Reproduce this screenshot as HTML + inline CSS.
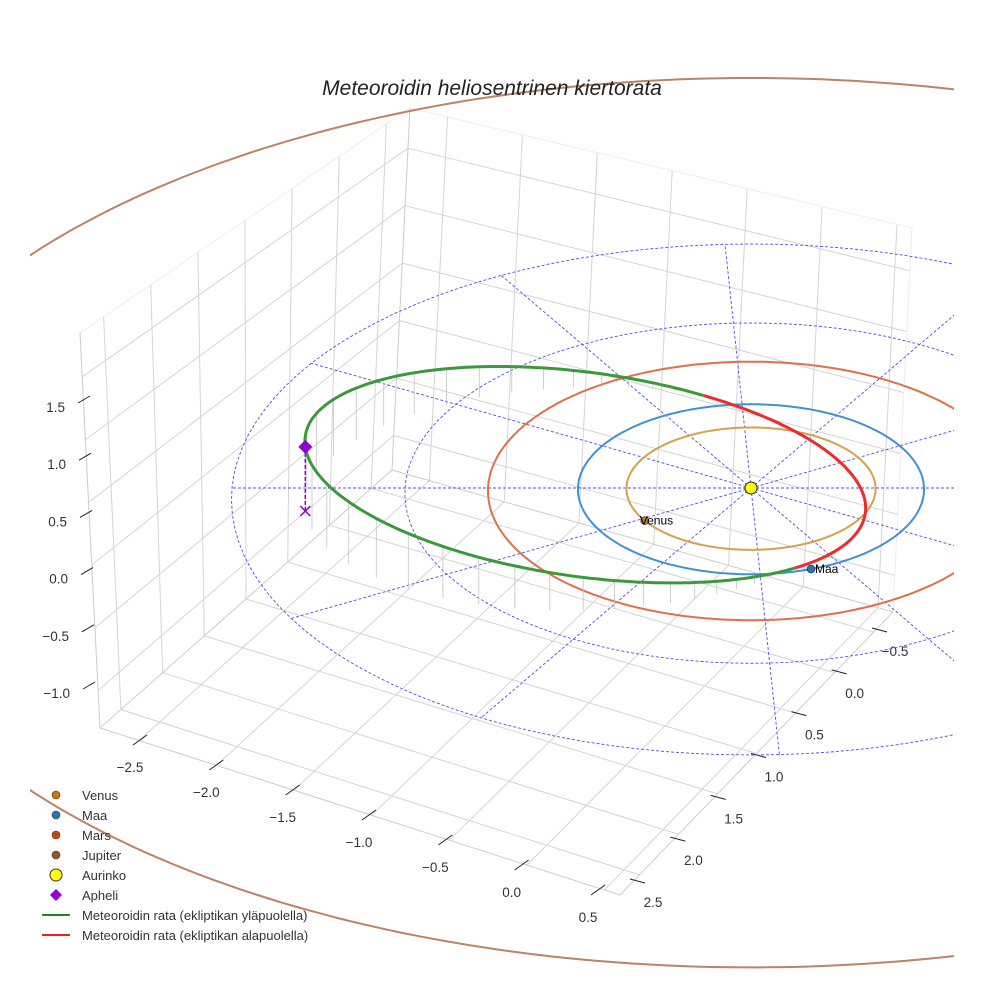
<!DOCTYPE html>
<html><head><meta charset="utf-8"><style>
html,body{margin:0;padding:0;background:#fff}
svg{display:block;font-family:"Liberation Sans",sans-serif}
</style></head><body>
<svg id="chart" width="984" height="984" viewBox="0 0 984 984" xmlns="http://www.w3.org/2000/svg">
<defs><clipPath id="clip"><rect x="30" y="0" width="924" height="984"/></clipPath></defs>
<rect width="984" height="984" fill="#fff"/>
<g id="grid"></g>
<g id="ticks"></g>
<g id="plot" clip-path="url(#clip)"></g>
<text x="492" y="95" text-anchor="middle" font-size="21" font-style="italic" fill="#222">Meteoroidin heliosentrinen kiertorata</text>
<g id="legend"></g>
</svg>
<script>
// ---- data ----
const planetNames = ["Venus", "Maa", "Mars", "Jupiter"];
const planetRadii = [0.72, 1.0, 1.52, 5.2];
const planetAngles = [148, 70, 0, 0];
const polarRings = [1, 2, 3];
const polarRays = [0, 30, 60, 87, 120, 150, 180, 210, 240, 267, 300, 330];
const meteorPerihelion = [0.66];
const meteorAphelion = [2.58];
const meteorPeriArg = [-6];
const meteorNode = [75];
const meteorSinInc = [0.22];
const xTicks = [-2.5, -2.0, -1.5, -1.0, -0.5, 0.0, 0.5];
const yTicks = [-0.5, 0.0, 0.5, 1.0, 1.5, 2.0, 2.5];
const zTicks = [1.5, 1.0, 0.5, 0.0, -0.5, -1.0];
const xRange = [-2.75, 0.6], yRange = [-0.75, 2.75], zRange = [-1.3, 1.85];

const NS = "http://www.w3.org/2000/svg";
function mk(tag, attrs, parent) { const e = document.createElementNS(NS, tag); for (const k in attrs) e.setAttribute(k, attrs[k]); parent.appendChild(e); return e; }
function proj(u, v, z) { const w = 1 / (1 - 0.015 * v); return [751 + 173 * u * w, 488 + (85 * v - 114 * z) * w]; }
function pathFrom(pts) { return pts.map((p, i) => (i ? "L" : "M") + p[0].toFixed(1) + "," + p[1].toFixed(1)).join(""); }
const grid = document.getElementById("grid"), plot = document.getElementById("plot"), ticks = document.getElementById("ticks"), legend = document.getElementById("legend");

// ---- box (trilinear map of box corners) ----
const corner = { "000": [392, 470], "001": [410, 108], "010": [100, 728], "011": [80, 333], "100": [893, 612], "101": [912, 228], "110": [620, 895], "111": [635, 500] };
function boxMap(x, y, z) {
  const tx = (x - xRange[0]) / (xRange[1] - xRange[0]), ty = (y - yRange[0]) / (yRange[1] - yRange[0]), tz = (z - zRange[0]) / (zRange[1] - zRange[0]);
  let sx = 0, sy = 0;
  for (const k in corner) { const wgt = (k[0] === "1" ? tx : 1 - tx) * (k[1] === "1" ? ty : 1 - ty) * (k[2] === "1" ? tz : 1 - tz); sx += wgt * corner[k][0]; sy += wgt * corner[k][1]; }
  return [sx, sy];
}
const gx = [-2.5, -2, -1.5, -1, -0.5, 0, 0.5], gy = [-0.5, 0, 0.5, 1, 1.5, 2, 2.5], gz = [-1, -0.5, 0, 0.5, 1, 1.5];
function gline(a, b, col) { const l = mk("path", { d: pathFrom([boxMap(...a), boxMap(...b)]), stroke: col || "#d4d4d4", "stroke-width": 1, fill: "none" }, grid);   }
const [x0, x1] = xRange, [y0, y1] = yRange, [z0, z1] = zRange;
gx.forEach(x => { gline([x, y0, z0], [x, y1, z0]); gline([x, y0, z0], [x, y0, z1]); });
gy.forEach(y => { gline([x0, y, z0], [x1, y, z0]); gline([x0, y, z0], [x0, y, z1]); });
gz.forEach(z => { gline([x0, y1, z], [x0, y0, z]); gline([x0, y0, z], [x1, y0, z]); });
[[[x0, y0, z1], [x0, y1, z1]], [[x0, y0, z1], [x1, y0, z1]], [[x1, y0, z0], [x1, y0, z1]]].forEach(s => gline(s[0], s[1], "#eeeeee"));
[[[x0, y1, z0], [x0, y1, z1]], [[x0, y0, z0], [x0, y0, z1]], [[x0, y1, z0], [x1, y1, z0]], [[x1, y0, z0], [x1, y1, z0]], [[x0, y0, z0], [x1, y0, z0]], [[x0, y0, z0], [x0, y1, z0]]].forEach(s => gline(s[0], s[1], "#cccccc"));

// ---- axis ticks ----
function lerp(a, b, t) { return a + (b - a) * t; }
function xAxis(v) { const t = (v + 2.5) / 3; return [lerp(130, 588, t), lerp(767, 917, t)]; }
function yAxis(v) { const t = (v + 0.5) / 3; return [lerp(895, 653, t), lerp(651, 902, t)]; }
function zAxis(v) { const t = (1.5 - v) / 2.5; return [lerp(65, 70, t), lerp(407, 693, t)]; }
function tickText(p, s, anchor, name) { const t = mk("text", { x: p[0], y: p[1] + 5, "text-anchor": anchor, "font-size": 13.5, fill: "#333" }, ticks); t.textContent = s;   }
function fmt(v) { return (v < 0 ? "\u2212" : "") + Math.abs(v).toFixed(1); }
xTicks.forEach(v => { const p = xAxis(v); mk("line", { x1: p[0] + 3, y1: p[1] - 22, x2: p[0] + 17, y2: p[1] - 32, stroke: "#222" }, ticks); tickText(p, fmt(v), "middle", "x-tick-label"); });
yTicks.forEach(v => { const p = yAxis(v); mk("line", { x1: p[0] - 23, y1: p[1] - 23, x2: p[0] - 8, y2: p[1] - 19, stroke: "#222" }, ticks); tickText(p, fmt(v), "middle", "y-tick-label"); });
zTicks.forEach(v => { const p = zAxis(v); mk("line", { x1: p[0] + 13, y1: p[1] - 4, x2: p[0] + 25, y2: p[1] - 11, stroke: "#222" }, ticks); tickText([p[0], p[1]], fmt(v), "end", "z-tick-label"); });

// ---- polar grid ----
polarRings.forEach(r => { const pts = []; for (let a = 0; a <= 360; a += 3) { const t = a * Math.PI / 180; pts.push(proj(r * Math.cos(t), r * Math.sin(t), 0)); }
  const e = mk("path", { d: pathFrom(pts), stroke: "#5050e0", "stroke-width": 0.9, "stroke-dasharray": "3,2", fill: "none" }, plot);   });
polarRays.forEach(a => { const t = a * Math.PI / 180, R = polarRings[polarRings.length - 1];
  const e = mk("path", { d: pathFrom([proj(0, 0, 0), proj(R * Math.cos(t), R * Math.sin(t), 0)]), stroke: "#5050e0", "stroke-width": 0.9, "stroke-dasharray": "3,2", fill: "none" }, plot);   });

// ---- planet orbits ----
const orbitColors = ["#d4a24c", "#3f92d2", "#e07048", "#b98468"];
planetRadii.forEach((r, i) => { const pts = []; for (let a = 0; a <= 360; a += 1) { const t = a * Math.PI / 180; pts.push(proj(r * Math.cos(t), r * Math.sin(t), 0)); }
  const e = mk("path", { d: pathFrom(pts), stroke: orbitColors[i], "stroke-width": 2, fill: "none" }, plot);   });

// ---- meteoroid orbit ----
const q = meteorPerihelion[0], Q = meteorAphelion[0], a = (q + Q) / 2, ecc = (Q - q) / (Q + q), si = meteorSinInc[0];
function mpt(fDeg) { const f = fDeg * Math.PI / 180, r = a * (1 - ecc * ecc) / (1 + ecc * Math.cos(f)), phi = (meteorPeriArg[0] + fDeg) * Math.PI / 180;
  const z = r * si * Math.sin(phi - meteorNode[0] * Math.PI / 180); return [r * Math.cos(phi), r * Math.sin(phi), z]; }
for (let f = 0; f < 360; f += 5) { const p = mpt(f); if (p[2] > 0.02) { const s = mk("path", { d: pathFrom([proj(p[0], p[1], p[2]), proj(p[0], p[1], 0)]), stroke: "#c4c4c4", "stroke-width": 0.8 }, plot);   } }
const up = [], down = [];
let seg = [], segAbove = null;
for (let f = 0; f <= 360; f += 1) { const p = mpt(f), above = p[2] >= 0, sp = proj(...p);
  if (segAbove === null) segAbove = above;
  if (above !== segAbove) { seg.push(sp); (segAbove ? up : down).push(seg); seg = [sp]; segAbove = above; } else seg.push(sp); }
(segAbove ? up : down).push(seg);
up.forEach(s => { const e = mk("path", { d: pathFrom(s), stroke: "#3a9a3a", "stroke-width": 3, fill: "none" }, plot);   });
down.forEach(s => { const e = mk("path", { d: pathFrom(s), stroke: "#ee2b2b", "stroke-width": 3, fill: "none" }, plot);   });

const ap = mpt(180), apS = proj(...ap), apG = proj(ap[0], ap[1], 0);
mk("line", { x1: apS[0], y1: apS[1], x2: apG[0], y2: apG[1], stroke: "#9400d3", "stroke-width": 1.5, "stroke-dasharray": "4,2" }, plot);
const dia = mk("path", { d: `M${apS[0]},${apS[1] - 7}L${apS[0] + 7},${apS[1]}L${apS[0]},${apS[1] + 7}L${apS[0] - 7},${apS[1]}Z`, fill: "#9400d3" }, plot);
 
const xm = mk("path", { d: `M${apG[0] - 5},${apG[1] - 5}L${apG[0] + 5},${apG[1] + 5}M${apG[0] + 5},${apG[1] - 5}L${apG[0] - 5},${apG[1] + 5}`, stroke: "#9400d3", "stroke-width": 1.5 }, plot);
 

const planetDot = ["#c87a10", "#1f77b4"];
[0, 1].forEach(i => { const t = planetAngles[i] * Math.PI / 180, p = proj(planetRadii[i] * Math.cos(t), planetRadii[i] * Math.sin(t), 0);
  const c = mk("circle", { cx: p[0], cy: p[1], r: 4, fill: planetDot[i], stroke: "#222", "stroke-width": 0.6 }, plot);  
  const l = mk("text", { x: p[0] - (i ? -4 : 5), y: p[1] + 4, "font-size": 12, fill: "#000" }, plot); l.textContent = planetNames[i];   });
const sun = proj(0, 0, 0);
const sc = mk("circle", { cx: sun[0], cy: sun[1], r: 6, fill: "#ffff00", stroke: "#222", "stroke-width": 1 }, plot);  

// ---- legend ----
const legItems = [["dot", "#c87a10", "Venus"], ["dot", "#1f77b4", "Maa"], ["dot", "#cc4411", "Mars"], ["dot", "#a0522d", "Jupiter"], ["sun", "#ffff00", "Aurinko"], ["dia", "#9400d3", "Apheli"], ["line", "#1a8a1a", "Meteoroidin rata (ekliptikan yläpuolella)"], ["line", "#e82020", "Meteoroidin rata (ekliptikan alapuolella)"]];
legItems.forEach((it, i) => { const y = 795 + i * 20, g = mk("g", {}, legend);
   
  if (it[0] === "dot") mk("circle", { cx: 56, cy: y, r: 4, fill: it[1], stroke: "#333", "stroke-width": 0.6 }, g);
  if (it[0] === "sun") mk("circle", { cx: 56, cy: y, r: 6, fill: it[1], stroke: "#333", "stroke-width": 1 }, g);
  if (it[0] === "dia") mk("path", { d: `M56,${y - 6}L62,${y}L56,${y + 6}L50,${y}Z`, fill: it[1] }, g);
  if (it[0] === "line") mk("line", { x1: 42, y1: y, x2: 70, y2: y, stroke: it[1], "stroke-width": 2 }, g);
  const t = mk("text", { x: 82, y: y + 5, "font-size": 13, fill: "#333" }, g); t.textContent = it[2]; });
</script>
</body></html>
